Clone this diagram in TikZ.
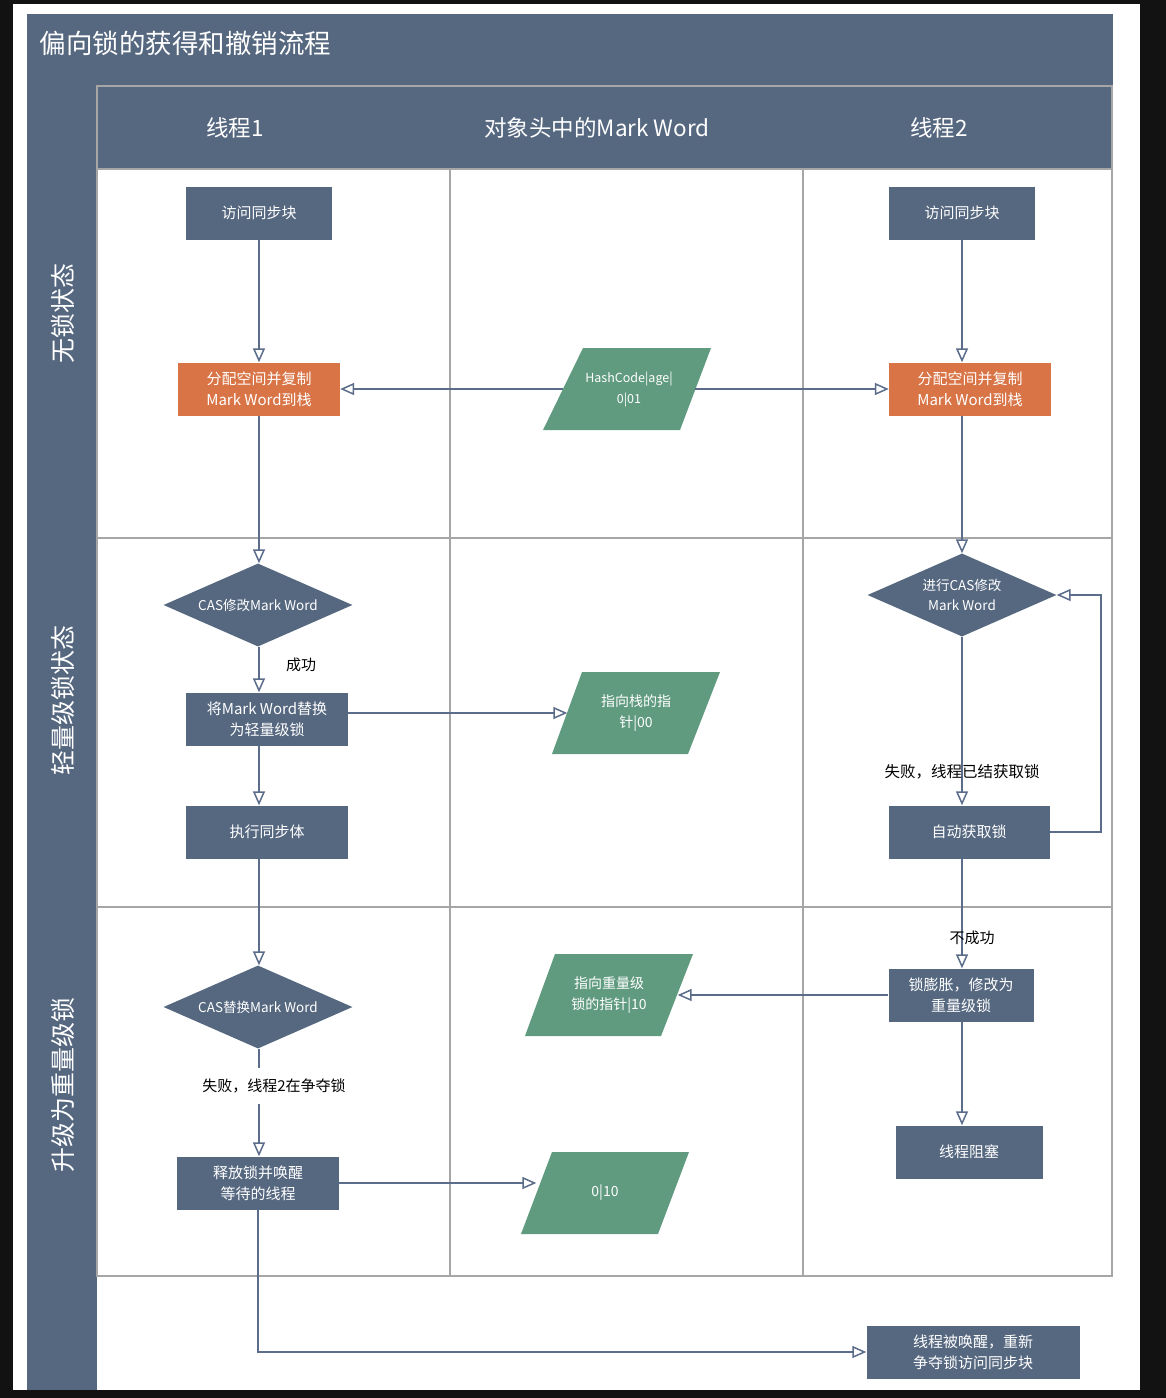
\documentclass[tikz,border=0pt]{standalone}
\usepackage{fontspec}
\setmainfont{Noto Sans CJK SC}
\usetikzlibrary{shapes.geometric,arrows.meta}
\definecolor{slate}{HTML}{566880}
\definecolor{orangebox}{HTML}{D97446}
\definecolor{greenbox}{HTML}{609B80}
\definecolor{linec}{HTML}{5B6D8A}
\definecolor{gridc}{HTML}{A6A6A6}
\definecolor{darkbg}{HTML}{121212}
\begin{document}
\begin{tikzpicture}[x=1pt,y=-1pt,
  box/.style={fill=slate, text=white, font=\fontsize{15}{21}\selectfont, align=center, inner sep=0pt, minimum height=53pt},
  obox/.style={box, fill=orangebox},
  dia/.style={diamond, fill=slate, text=white, font=\fontsize{13.5}{20}\selectfont, align=center, inner sep=0pt, aspect=2.3, minimum width=189pt, minimum height=83pt},
  ptext/.style={text=white, font=\fontsize{14}{21}\selectfont, align=center, inner sep=0pt, minimum height=82pt},
  para/.style={fill=greenbox},
  arr/.style={draw=linec, line width=1.5pt, -{Triangle[open, length=14pt, width=12pt, fill=white]}},
  lbl/.style={font=\fontsize{15}{19}\selectfont, text=black, inner sep=1pt},
  hdr/.style={text=white, font=\fontsize{22.5}{26}\selectfont},
  side/.style={text=white, font=\fontsize{25}{28}\selectfont, rotate=90}
]
\useasboundingbox (0,0) rectangle (1166,1398);
% background and frame
\fill[darkbg] (0,0) rectangle (1166,1398);
\fill[white] (13,4) rectangle (1140,1390);
\fill[slate] (27,14) rectangle (1113,86);
\fill[slate] (27,14) rectangle (97,1390);
\fill[slate] (97,86) rectangle (1112,169);
% grid
\draw[gridc, line width=1.5pt] (97,86) rectangle (1112,1276);
\draw[gridc, line width=1.5pt] (97,169) -- (1112,169);
\draw[gridc, line width=1.5pt] (97,538) -- (1112,538);
\draw[gridc, line width=1.5pt] (97,907) -- (1112,907);
\draw[gridc, line width=1.5pt] (450,169) -- (450,1276);
\draw[gridc, line width=1.5pt] (803,169) -- (803,1276);

% titles
\node[anchor=west, text=white, font=\fontsize{26.5}{30}\selectfont] (title) at (36,43) {偏向锁的获得和撤销流程};
\node[hdr] (h1) at (235,128) {线程1};
\node[hdr] (h2) at (597,128) {对象头中的Mark Word};
\node[hdr] (h3) at (939,128) {线程2};
\node[side] (s1) at (63,313) {无锁状态};
\node[side] (s2) at (63,700) {轻量级锁状态};
\node[side] (s3) at (63,1085) {升级为重量级锁};

% parallelogram shapes (green)
\fill[para] (583,348) -- (711,348) -- (680,430) -- (543,430) -- cycle;
\fill[para] (582,672) -- (720,672) -- (688,754) -- (552,754) -- cycle;
\fill[para] (555,954) -- (693,954) -- (661,1036) -- (525,1036) -- cycle;
\fill[para] (552,1152) -- (689,1152) -- (658,1234) -- (521,1234) -- cycle;
\node[ptext, minimum width=132pt, font=\fontsize{12.5}{21}\selectfont] (p1) at (629,389) {HashCode|age|\\0|01};
\node[ptext, minimum width=137pt] (p2) at (636,713) {指向栈的指\\针|00};
\node[ptext, minimum width=137pt] (p3) at (609,995) {指向重量级\\锁的指针|10};
\node[ptext, minimum width=137pt] (p4) at (605,1193) {0|10};

% thread 1
\node[box, minimum width=146pt] (a1) at (259,213) {访问同步块};
\node[obox, minimum width=162pt] (b1) at (259,389) {分配空间并复制\\Mark Word到栈};
\node[dia] (c1) at (258,605) {CAS修改Mark Word};
\node[box, minimum width=162pt] (d1) at (267,719) {将Mark Word替换\\为轻量级锁};
\node[box, minimum width=162pt] (e1) at (267,832) {执行同步体};
\node[dia] (f1) at (258,1007) {CAS替换Mark Word};
\node[box, minimum width=162pt] (g1) at (258,1183) {释放锁并唤醒\\等待的线程};
\node[box, minimum width=213pt] (h) at (973,1352) {线程被唤醒，重新\\争夺锁访问同步块};

% thread 2
\node[box, minimum width=146pt] (a2) at (962,213) {访问同步块};
\node[obox, minimum width=162pt] (b2) at (970,389) {分配空间并复制\\Mark Word到栈};
\node[dia] (c2) at (962,595) {进行CAS修改\\Mark Word};
\node[box, minimum width=161pt] (e2) at (969,832) {自动获取锁};
\node[box, minimum width=145pt] (f2) at (961,995) {锁膨胀，修改为\\重量级锁};
\node[box, minimum width=147pt] (g2) at (969,1152) {线程阻塞};
\coordinate (loop) at (1101,0);

% connectors thread 1
\draw[arr] (a1) -- (b1);
\draw[arr] (b1.south) -- (b1.south |- c1.north);
\draw[arr] (b1.south |- c1.south) -- (b1.south |- d1.north);
\draw[arr] (b1.south |- d1.south) -- (b1.south |- e1.north);
\draw[arr] (b1.south |- e1.south) -- (b1.south |- f1.north);
\draw[arr] (b1.south |- f1.south) -- (b1.south |- g1.north);
\draw[arr] (g1.south) |- (h.west);
\node[lbl] (l1) at (301,665) {成功};
\node[lbl, fill=white, inner ysep=11pt, inner xsep=2pt] (l2) at (274,1086) {失败，线程2在争夺锁};

% connectors middle
\draw[arr] (p1.west) -- (b1.east);
\draw[arr] (p1.east) -- (b2.west);
\draw[arr] (d1.east |- p2.west) -- (p2.west);
\draw[arr] (f2.west) -- (f2.west -| p3.east);
\draw[arr] (g1.east) -- (g1.east -| p4.west);

% connectors thread 2
\draw[arr] (a2.south) -- (a2.south |- b2.north);
\draw[arr] (a2.south |- b2.south) -- (c2.north);
\draw[arr] (c2.south) -- (c2.south |- e2.north);
\draw[arr] (e2.east) -| (loop |- c2.east) -- (c2.east);
\draw[arr] (c2.south |- e2.south) -- (c2.south |- f2.north);
\draw[arr] (c2.south |- f2.south) -- (c2.south |- g2.north);
\node[lbl, font=\fontsize{15.5}{19}\selectfont] (l3) at (962,772) {失败，线程已结获取锁};
\node[lbl] (l4) at (972,938) {不成功};
\end{tikzpicture}
\end{document}
